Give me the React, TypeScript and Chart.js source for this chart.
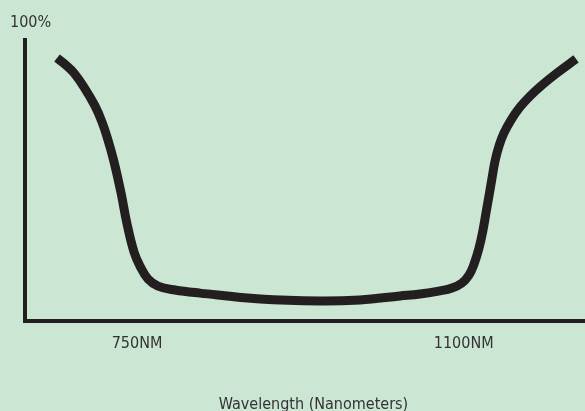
import React, { useEffect, useRef } from "react";
import { Chart, registerables } from "chart.js";

Chart.register(...registerables);

const wavelengths = [664.3, 673.9, 682.5, 693.2, 705, 712.5, 718.9, 725.4, 732.9, 739.3, 746.8, 753.2, 761.8, 772.5, 790.7, 817.5, 881.8, 946.1, 988.9, 1031.8, 1053.2, 1074.6, 1087.5, 1098.2, 1105.7, 1111.1, 1116.4, 1120.7, 1123.9, 1127.1, 1130.4, 1133.6, 1137.9, 1143.2, 1150.7, 1160.4, 1171.1, 1183.9, 1200, 1220.4];
const transmission = [93.4, 90.9, 88.1, 83.1, 76.4, 70.7, 64.3, 56.5, 45.5, 34.5, 24.5, 19.5, 14.9, 12.4, 11.0, 9.9, 7.8, 7.1, 7.5, 8.9, 9.6, 10.7, 11.7, 13.5, 16.3, 20.2, 25.9, 32.3, 38.4, 44.4, 50.8, 56.8, 62.2, 66.8, 71.4, 76.0, 79.9, 83.8, 88.1, 93.1];
const xTickValues = [750, 1100];
const yTopLabel = "100%";
const xAxisTitle = "Wavelength (Nanometers)";

const FONT = '"Liberation Sans Narrow", "DejaVu Sans Condensed", "Arial Narrow", sans-serif';
const INK = "#231f20";
const TEXT = "#333333";
const BG = "#cce6d4";

const labelPlugin = {
  id: "labelPlugin",
  afterDraw(chart: any) {
    const { ctx, chartArea } = chart;
    ctx.save();
    ctx.fillStyle = TEXT;
    ctx.font = `16px ${FONT}`;
    ctx.textBaseline = "alphabetic";
    ctx.textAlign = "left";
    ctx.fillText(yTopLabel, chartArea.left - 15, chartArea.top - 12.5);
    ctx.textAlign = "center";
    ctx.fillText(xAxisTitle, chartArea.left + 288.5, chartArea.bottom + 88);
    ctx.restore();
  },
};

export default function App() {
  const ref = useRef<HTMLCanvasElement | null>(null);

  useEffect(() => {
    document.body.style.margin = "0";
    document.body.style.background = BG;
    const canvas = ref.current;
    if (!canvas) return;
    const chart = new Chart(canvas, {
      type: "line",
      data: {
        datasets: [
          {
            data: wavelengths.map((x, i) => ({ x, y: transmission[i] })),
            borderColor: INK,
            borderWidth: 9,
            borderCapStyle: "butt",
            borderJoinStyle: "round",
            pointRadius: 0,
            tension: 0.4,
            fill: false,
          },
        ],
      },
      options: {
        animation: false,
        responsive: false,
        maintainAspectRatio: false,
        layout: { padding: { top: 39.5, left: 25, right: 0, bottom: 56 } },
        plugins: {
          legend: { display: false },
          tooltip: { enabled: false },
          title: { display: false },
        },
        scales: {
          x: {
            type: "linear",
            min: 630,
            max: 1230,
            grid: { display: false, drawTicks: false },
            border: { display: true, width: 4, color: INK },
            afterBuildTicks: (scale: any) => {
              scale.ticks = xTickValues.map((v) => ({ value: v }));
            },
            afterFit: (scale: any) => {
              scale.height = 34;
            },
            ticks: {
              padding: 13,
              color: TEXT,
              font: { family: FONT, size: 16 },
              maxRotation: 0,
              autoSkip: false,
              callback: (v: any) => `${v}NM`,
            },
          },
          y: {
            min: 0,
            max: 100,
            grid: { display: false, drawTicks: false },
            border: { display: true, width: 4, color: INK },
            ticks: { display: false },
            afterFit: (scale: any) => {
              scale.width = 0;
            },
          },
        },
      },
      plugins: [labelPlugin],
    });
    return () => chart.destroy();
  }, []);

  return (
    <div style={{ width: 585, height: 411, background: BG }}>
      <canvas ref={ref} width={585} height={411} style={{ display: "block" }} />
    </div>
  );
}
